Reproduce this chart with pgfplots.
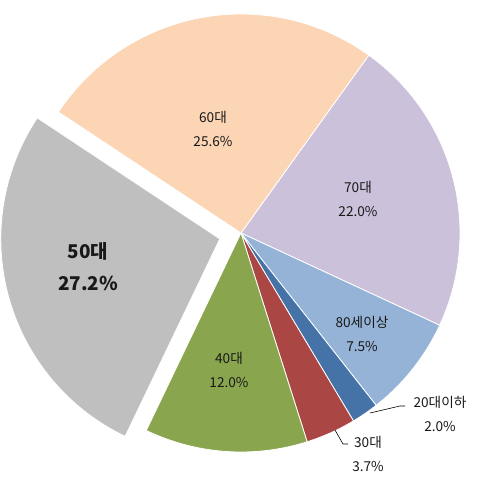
\documentclass[border=0pt]{standalone}
\usepackage{pgfplots}
\pgfplotsset{compat=1.18}
\usepackage{fontspec}
\setmainfont{Noto Sans CJK KR}

% slice colours
\definecolor{c60}{HTML}{FCD5B5}
\definecolor{c70}{HTML}{CCC1DA}
\definecolor{c80}{HTML}{95B3D7}
\definecolor{c20}{HTML}{4572A7}
\definecolor{c30}{HTML}{AA4643}
\definecolor{c40}{HTML}{89A54E}
\definecolor{c50}{HTML}{BFBFBF}

% centre, radius, start angle (degrees, counter-clockwise from +x)
\def\cx{241}\def\cy{247}\def\R{219}\def\st{54.3}

\begin{document}
\begin{tikzpicture}
\begin{axis}[
    width=480bp, height=480bp, scale only axis,
    xmin=0, xmax=480, ymin=0, ymax=480,
    hide axis, clip=false]
\path (rel axis cs:0,0) rectangle (rel axis cs:1,1);

% 70대 22.0 (cumulative before: 0)
\addplot[fill=c70, draw=white, line width=0.8pt, domain={\st-3.6*22.0}:{\st}, samples=80]
    ({\cx+\R*cos(x)},{\cy+\R*sin(x)}) -- (\cx,\cy) -- cycle;
% 80세이상 7.5 (before: 22.0)
\addplot[fill=c80, draw=white, line width=0.8pt, domain={\st-3.6*29.5}:{\st-3.6*22.0}, samples=40]
    ({\cx+\R*cos(x)},{\cy+\R*sin(x)}) -- (\cx,\cy) -- cycle;
% 20대이하 2.0 (before: 29.5)
\addplot[fill=c20, draw=white, line width=0.8pt, domain={\st-3.6*31.5}:{\st-3.6*29.5}, samples=10]
    ({\cx+\R*cos(x)},{\cy+\R*sin(x)}) -- (\cx,\cy) -- cycle;
% 30대 3.7 (before: 31.5)
\addplot[fill=c30, draw=white, line width=0.8pt, domain={\st-3.6*35.2}:{\st-3.6*31.5}, samples=20]
    ({\cx+\R*cos(x)},{\cy+\R*sin(x)}) -- (\cx,\cy) -- cycle;
% 40대 12.0 (before: 35.2)
\addplot[fill=c40, draw=white, line width=0.8pt, domain={\st-3.6*47.2}:{\st-3.6*35.2}, samples=50]
    ({\cx+\R*cos(x)},{\cy+\R*sin(x)}) -- (\cx,\cy) -- cycle;
% 50대 27.2 (before: 47.2), pulled out by 22
\addplot[fill=c50, draw=white, line width=0.8pt, domain={\st-3.6*74.4}:{\st-3.6*47.2}, samples=90]
    ({\cx-21.2+\R*cos(x)},{\cy-5.9+\R*sin(x)}) -- (\cx-21.2,\cy-5.9) -- cycle;
% 60대 25.6 (before: 74.4)
\addplot[fill=c60, draw=white, line width=0.8pt, domain={\st-3.6*100}:{\st-3.6*74.4}, samples=90]
    ({\cx+\R*cos(x)},{\cy+\R*sin(x)}) -- (\cx,\cy) -- cycle;

% labels
\begin{scope}[every node/.style={align=center, font=\fontsize{13.7}{24}\selectfont, text=black!90}]
\node at (213,351) {60대\\25.6\%};
\node at (358,281) {70대\\22.0\%};
\node at (362,146) {80세이상\\7.5\%};
\node at (440,66) {20대이하\\2.0\%};
\node at (368,26) {30대\\3.7\%};
\node at (229,110) {40대\\12.0\%};
\node[font=\fontsize{19}{32}\selectfont\bfseries] at (88,213) {50대\\27.2\%};
\end{scope}

% leader lines
\draw[black, line width=0.6pt] (370,67) -- (400,74) -- (405,74);
\draw[black, line width=0.6pt] (335,50) -- (343,36) -- (348,36);
\end{axis}
\end{tikzpicture}
\end{document}
